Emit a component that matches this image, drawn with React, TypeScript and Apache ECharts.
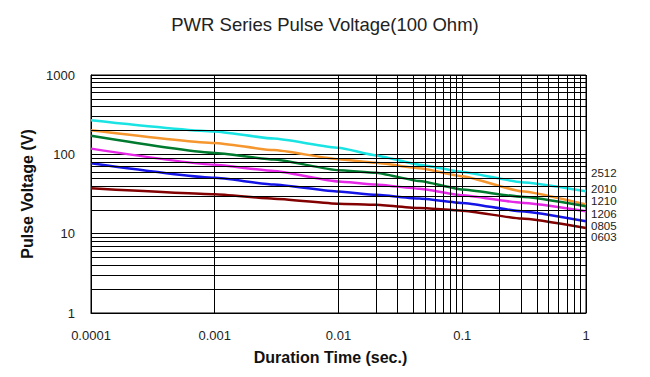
import React, { useEffect, useRef } from "react";
import * as echarts from "echarts";

const times = [1e-4, 1e-3, 3e-3, 1e-2, 2e-2, 4.5e-2, 0.1, 0.3, 1];
const s2512 = [269, 194, 158, 121, 97, 74, 60, 44.6, 34.3];
const s2010 = [201, 139, 113, 87, 78.5, 67, 53, 34.3, 23.3];
const s1210 = [171, 104, 86, 63, 58.7, 46, 36, 29.2, 22.2];
const s1206 = [118, 74, 61.5, 45.5, 41.7, 36.8, 30.5, 24.5, 19.2];
const s0805 = [77, 50.5, 41.7, 34, 30.9, 27.7, 24.4, 19.2, 14.3];
const s0603 = [37.4, 31.5, 27.5, 23.8, 23.1, 21.1, 19.5, 15.5, 11.8];

const seriesNames = ["2512", "2010", "1210", "1206", "0805", "0603"];
const seriesValues = [s2512, s2010, s1210, s1206, s0805, s0603];
const colors = ["#19e3e3", "#f5962e", "#007a2e", "#e629e6", "#1414e6", "#820000"];
const labelShift = [-18, -16, -5.5, 2.5, 4.5, 9.5];

const xDecades = [-4, -3, -2, -1];
const yDecades = [0, 1, 2];
const minorSteps = [2, 3, 4, 5, 6, 7, 8, 9];

const fmt = (v: number) => String(Number(Number(v).toPrecision(1)));

export default function App() {
  const ref = useRef<HTMLDivElement>(null);
  useEffect(() => {
    if (!ref.current) return;
    const chart = echarts.init(ref.current, null, { renderer: "svg" });
    const font = "'Liberation Sans', Arial, sans-serif";

    const gridLines: any[] = [];
    xDecades.forEach((d) =>
      minorSteps.forEach((k) => gridLines.push({ xAxis: k * Math.pow(10, d) }))
    );
    yDecades.forEach((d) =>
      minorSteps.forEach((k) => gridLines.push({ yAxis: k * Math.pow(10, d) }))
    );

    const series: any[] = [
      {
        type: "line",
        data: [],
        z: 1,
        silent: true,
        markLine: {
          silent: true,
          symbol: "none",
          label: { show: false },
          lineStyle: { color: "#000", width: 1, type: "solid" },
          data: gridLines,
        },
      },
    ];
    seriesNames.forEach((name, i) => {
      series.push({
        name,
        type: "line",
        z: 3,
        smooth: 0.15,
        smoothMonotone: "x",
        showSymbol: false,
        symbol: "none",
        lineStyle: { color: colors[i], width: 2.5 },
        itemStyle: { color: colors[i] },
        data: times.map((t, j) => [t, seriesValues[i][j]]),
        endLabel: {
          show: true,
          formatter: name,
          color: "#222",
          fontFamily: font,
          fontSize: 11.5,
          lineHeight: 10,
          distance: 5,
          offset: [0, labelShift[i]],
        },
      });
    });

    chart.setOption({
      animation: false,
      backgroundColor: "#fff",
      title: {
        text: "PWR Series Pulse Voltage(100 Ohm)",
        left: "center",
        top: 10,
        textStyle: {
          fontFamily: font,
          fontSize: 18.5,
          fontWeight: "normal",
          color: "#222",
        },
      },
      grid: {
        left: 91,
        right: 64,
        top: 75,
        bottom: 64,
        show: true,
        borderColor: "#000",
        borderWidth: 1,
        backgroundColor: "transparent",
      },
      xAxis: {
        type: "log",
        min: 1e-4,
        max: 1,
        logBase: 10,
        name: "Duration Time (sec.)",
        nameLocation: "middle",
        nameGap: 36,
        nameTextStyle: {
          fontFamily: font,
          fontSize: 16,
          fontWeight: "bold",
          color: "#111",
          padding: [0, 16, 0, 0],
        },
        axisLine: { show: true, lineStyle: { color: "#000", width: 1 } },
        axisTick: { show: false },
        axisLabel: {
          formatter: fmt,
          fontFamily: font,
          fontSize: 13,
          color: "#222",
          margin: 16,
        },
        splitLine: { show: true, lineStyle: { color: "#000", width: 1 } },
      },
      yAxis: {
        type: "log",
        min: 1,
        max: 1000,
        logBase: 10,
        name: "Pulse Voltage (V)",
        nameLocation: "middle",
        nameGap: 48,
        nameTextStyle: {
          fontFamily: font,
          fontSize: 16,
          fontWeight: "bold",
          color: "#111",
        },
        axisLine: { show: true, lineStyle: { color: "#000", width: 1 } },
        axisTick: { show: false },
        axisLabel: {
          formatter: fmt,
          fontFamily: font,
          fontSize: 13,
          color: "#222",
          margin: 16,
        },
        splitLine: { show: true, lineStyle: { color: "#000", width: 1 } },
      },
      series,
    });
    return () => chart.dispose();
  }, []);
  return (
    <div
      ref={ref}
      style={{ position: "fixed", left: 0, top: 0, width: 650, height: 377 }}
    />
  );
}
